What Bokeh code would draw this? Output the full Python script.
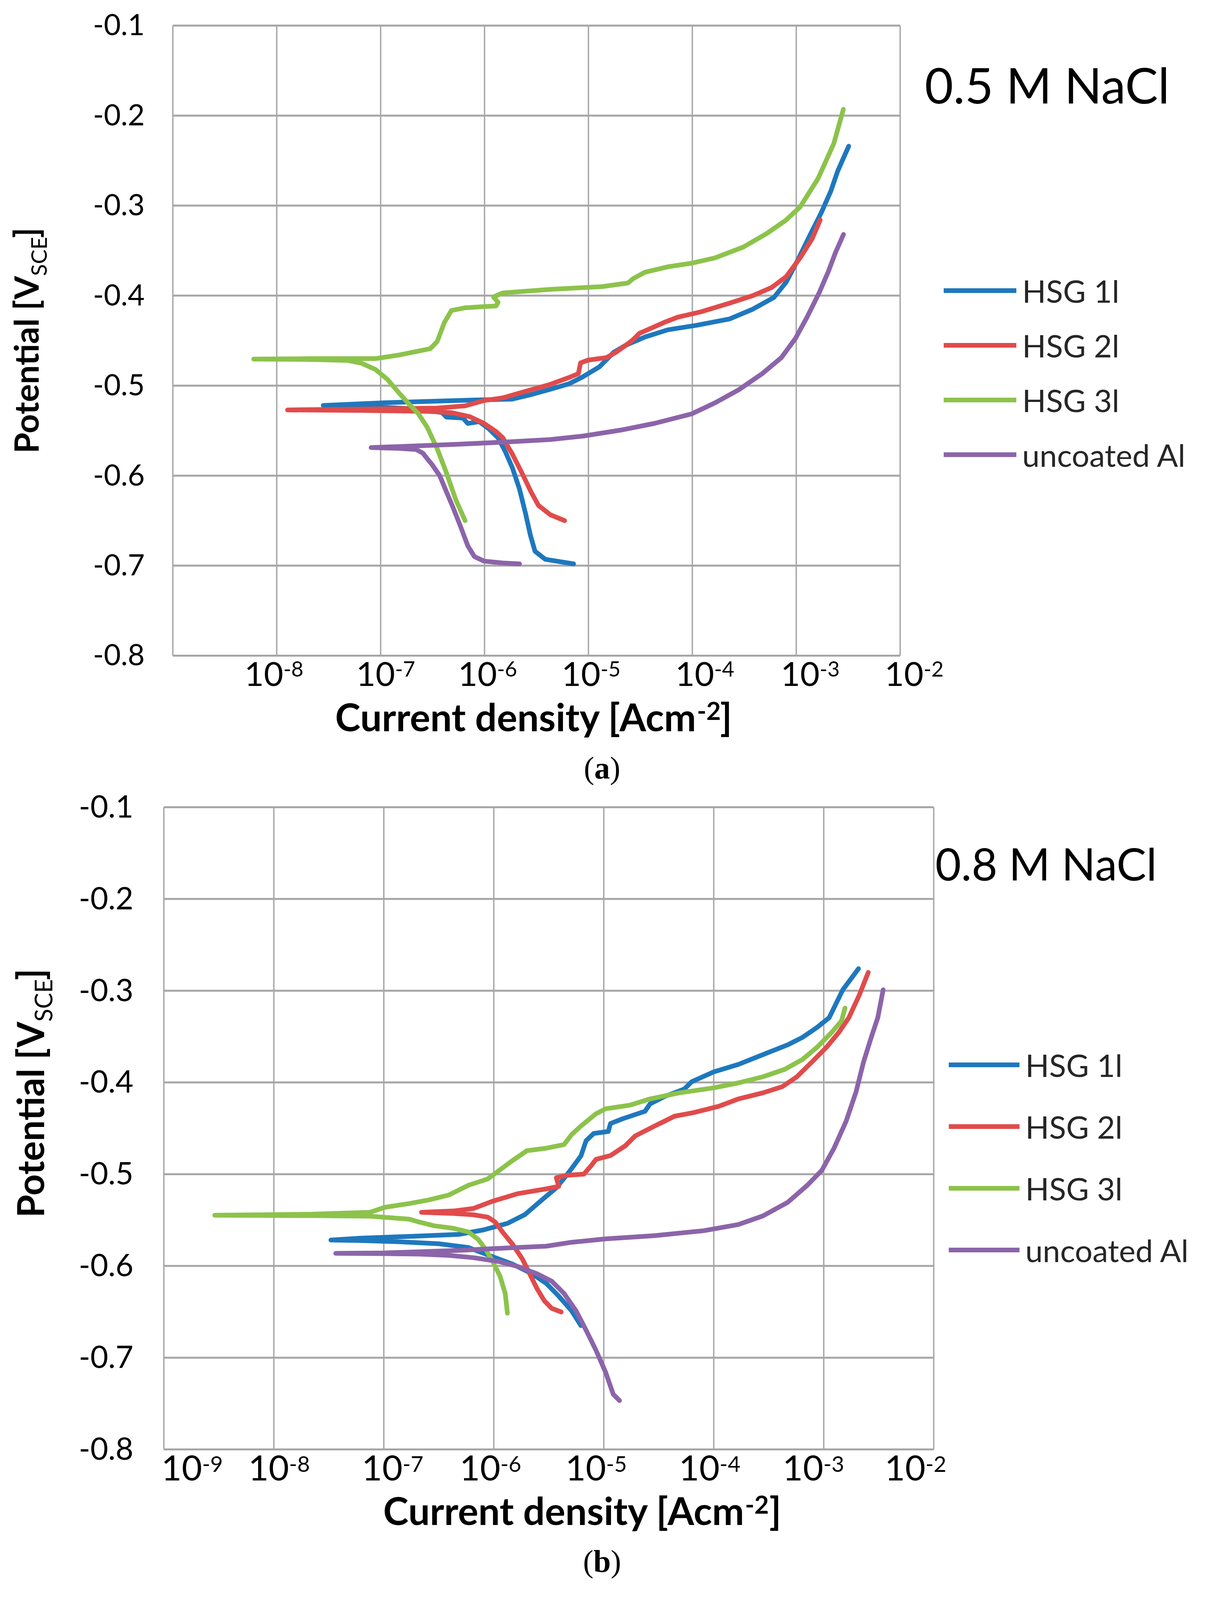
import math

from bokeh.embed import file_html
from bokeh.layouts import column
from bokeh.models import Label, Legend, LegendItem, Range1d
from bokeh.plotting import figure
from bokeh.resources import INLINE


# current density [A/cm2] and potential [V vs SCE]

# (a) 0.5 M NaCl
a_hsg1_i = [7.2e-6, 3.85e-6, 3.06e-6, 2.76e-6, 2.48e-6, 2.17e-6, 1.85e-6, 1.58e-6, 1.35e-6, 1.1e-6,
            8.9e-7, 6.9e-7, 6.2e-7, 4.3e-7, 3.9e-7, 2.3e-7, 6.5e-8, 2.8e-8, 1.1e-7, 8.0e-7,
            1.85e-6, 2.8e-6, 4.3e-6, 6.5e-6, 8.9e-6, 1.28e-5, 1.75e-5, 2.3e-5, 3.5e-5, 5.8e-5,
            1.09e-4, 2.27e-4, 3.83e-4, 6.1e-4, 8.0e-4, 1.03e-3, 1.34e-3, 1.74e-3, 2.15e-3, 2.5e-3,
            2.85e-3, 3.2e-3]
a_hsg1_e = [-0.698, -0.693, -0.684, -0.666, -0.642, -0.615, -0.591, -0.573, -0.558, -0.548,
            -0.540, -0.542, -0.536, -0.535, -0.530, -0.526, -0.523, -0.522, -0.519, -0.516,
            -0.515, -0.510, -0.504, -0.498, -0.490, -0.479, -0.463, -0.455, -0.446, -0.438,
            -0.433, -0.426, -0.415, -0.402, -0.385, -0.361, -0.334, -0.308, -0.284, -0.262,
            -0.247, -0.234]

a_hsg2_i = [5.9e-6, 4.3e-6, 3.3e-6, 2.8e-6, 2.29e-6, 1.85e-6, 1.5e-6, 1.29e-6, 9.9e-7, 7.2e-7,
            4.8e-7, 2.8e-7, 6.5e-8, 1.27e-8, 6.5e-8, 3.5e-7, 6.5e-7, 9.9e-7, 1.5e-6, 2.54e-6,
            4.3e-6, 6.5e-6, 8.0e-6, 8.4e-6, 9.9e-6, 1.5e-5, 1.85e-5, 2.28e-5, 2.67e-5, 3.1e-5,
            3.8e-5, 5.3e-5, 7.2e-5, 1.21e-4, 2.27e-4, 3.83e-4, 5.8e-4, 8.0e-4, 1.09e-3, 1.42e-3,
            1.7e-3]
a_hsg2_e = [-0.650, -0.6435, -0.633, -0.618, -0.597, -0.576, -0.558, -0.551, -0.542, -0.5345,
            -0.530, -0.5285, -0.5276, -0.527, -0.526, -0.525, -0.5225, -0.5165, -0.5136, -0.506,
            -0.4986, -0.491, -0.4867, -0.4747, -0.4717, -0.4688, -0.4628, -0.4553, -0.4493, -0.4419,
            -0.4374, -0.430, -0.424, -0.418, -0.4084, -0.400, -0.391, -0.379, -0.358, -0.337,
            -0.316]

a_hsg3_i = [6.5e-7, 5.3e-7, 4.3e-7, 3.5e-7, 2.8e-7, 2.3e-7, 1.86e-7, 1.5e-7, 1.16e-7, 8.9e-8,
            6.5e-8, 4.8e-8, 2.3e-8, 6.0e-9, 2.3e-8, 8.9e-8, 1.5e-7, 3.0e-7, 3.5e-7, 4.1e-7,
            4.8e-7, 6.5e-7, 1.04e-6, 1.29e-6, 1.35e-6, 1.22e-6, 1.5e-6, 4.3e-6, 1.35e-5, 2.4e-5,
            2.7e-5, 3.5e-5, 5.8e-5, 9.8e-5, 1.66e-4, 3.1e-4, 5.2e-4, 8.0e-4, 1.09e-3, 1.62e-3,
            2.3e-3, 2.84e-3]
a_hsg3_e = [-0.650, -0.627, -0.597, -0.570, -0.546, -0.531, -0.520, -0.508, -0.493, -0.482,
            -0.475, -0.472, -0.471, -0.4705, -0.470, -0.470, -0.466, -0.459, -0.451, -0.430,
            -0.4165, -0.4135, -0.412, -0.4115, -0.4075, -0.4015, -0.397, -0.393, -0.390, -0.386,
            -0.381, -0.374, -0.368, -0.364, -0.358, -0.346, -0.331, -0.316, -0.3015, -0.270,
            -0.231, -0.193]

a_al_i = [2.17e-6, 1.5e-6, 9.9e-7, 8.0e-7, 6.9e-7, 5.9e-7, 5.0e-7, 4.3e-7, 3.7e-7, 3.14e-7,
          2.8e-7, 2.55e-7, 2.2e-7, 1.5e-7, 8.1e-8, 1.86e-7, 5.3e-7, 1.5e-6, 4.3e-6, 8.9e-6,
          2.05e-5, 4.3e-5, 9.8e-5, 1.66e-4, 2.8e-4, 4.7e-4, 7.2e-4, 9.8e-4, 1.27e-3, 1.66e-3,
          2.04e-3, 2.39e-3, 2.85e-3]
a_al_e = [-0.698, -0.697, -0.695, -0.690, -0.678, -0.657, -0.636, -0.618, -0.600, -0.588,
          -0.581, -0.575, -0.571, -0.5697, -0.5688, -0.5673, -0.5652, -0.5628, -0.5599, -0.556,
          -0.5494, -0.542, -0.5315, -0.519, -0.5046, -0.4867, -0.4688, -0.4478, -0.424, -0.397,
          -0.373, -0.352, -0.332]

# (b) 0.8 M NaCl
b_hsg1_i = [6.2e-6, 5.1e-6, 3.9e-6, 3.0e-6, 2.23e-6, 1.48e-6, 9.8e-7, 5.9e-7, 3.16e-7, 1.39e-7,
            6.1e-8, 3.3e-8, 6.1e-8, 1.7e-7, 4.8e-7, 8.0e-7, 1.33e-6, 1.91e-6, 2.74e-6, 3.72e-6,
            4.58e-6, 5.35e-6, 6.2e-6, 6.9e-6, 8.1e-6, 1.1e-5, 1.15e-5, 1.49e-5, 2.37e-5, 2.63e-5,
            3.58e-5, 5.4e-5, 6.3e-5, 1.0e-4, 1.67e-4, 2.8e-4, 4.7e-4, 6.4e-4, 8.7e-4, 1.12e-3,
            1.49e-3, 2.07e-3]
b_hsg1_e = [-0.665, -0.649, -0.633, -0.619, -0.6086, -0.598, -0.590, -0.580, -0.5758, -0.5737,
            -0.5723, -0.5718, -0.5697, -0.5678, -0.5656, -0.5608, -0.5536, -0.5442, -0.528, -0.5146,
            -0.5012, -0.4905, -0.480, -0.4636, -0.4556, -0.4534, -0.4448, -0.4395, -0.4314, -0.4234,
            -0.4153, -0.4072, -0.3992, -0.3885, -0.3804, -0.3697, -0.359, -0.3509, -0.340, -0.3294,
            -0.299, -0.276]

b_hsg2_i = [4.1e-6, 3.36e-6, 2.88e-6, 2.47e-6, 2.12e-6, 1.82e-6, 1.48e-6, 1.2e-6, 1.03e-6, 8.8e-7,
            6.5e-7, 4.3e-7, 2.2e-7, 4.3e-7, 6.5e-7, 9.8e-7, 1.64e-6, 3.0e-6, 3.9e-6, 3.7e-6,
            4.58e-6, 6.6e-6, 7.7e-6, 8.5e-6, 1.15e-5, 1.57e-5, 1.93e-5, 2.9e-5, 4.4e-5, 6.6e-5,
            1.11e-4, 1.67e-4, 2.8e-4, 4.2e-4, 5.7e-4, 7.8e-4, 1.06e-3, 1.37e-3, 1.69e-3, 2.1e-3,
            2.54e-3]
b_hsg2_e = [-0.6502, -0.6462, -0.638, -0.6247, -0.6086, -0.5925, -0.5764, -0.563, -0.5522, -0.5468,
            -0.5442, -0.5428, -0.5415, -0.5401, -0.5374, -0.5294, -0.5213, -0.516, -0.5133, -0.5039,
            -0.5012, -0.4999, -0.4905, -0.4838, -0.4797, -0.469, -0.4583, -0.4475, -0.4368, -0.4328,
            -0.426, -0.418, -0.4113, -0.4046, -0.3938, -0.3777, -0.3616, -0.3455, -0.3294, -0.305,
            -0.280]

b_hsg3_i = [1.33e-6, 1.27e-6, 1.14e-6, 9.8e-7, 8.4e-7, 7.2e-7, 5.9e-7, 4.3e-7, 2.85e-7, 2.1e-7,
            1.7e-7, 1.13e-7, 7.5e-8, 2.2e-8, 2.9e-9, 2.2e-8, 7.5e-8, 1.02e-7, 1.7e-7, 2.58e-7,
            3.9e-7, 5.9e-7, 8.8e-7, 1.2e-6, 1.48e-6, 2.0e-6, 3.0e-6, 4.35e-6, 5.1e-6, 6.2e-6,
            8.5e-6, 1.04e-5, 1.74e-5, 2.63e-5, 4.87e-5, 1.0e-4, 1.67e-4, 2.8e-4, 4.4e-4, 6.4e-4,
            8.7e-4, 1.18e-3, 1.45e-3, 1.56e-3]
b_hsg3_e = [-0.6515, -0.630, -0.6113, -0.5952, -0.5817, -0.571, -0.563, -0.559, -0.5562, -0.5522,
            -0.549, -0.5474, -0.5458, -0.5452, -0.5447, -0.5436, -0.5415, -0.5361, -0.532, -0.528,
            -0.5227, -0.512, -0.5052, -0.4932, -0.4851, -0.4744, -0.4717, -0.4677, -0.4569, -0.4475,
            -0.4341, -0.4287, -0.4247, -0.418, -0.4113, -0.4059, -0.4005, -0.3938, -0.3858, -0.375,
            -0.3616, -0.3455, -0.333, -0.319]

b_al_i = [1.39e-5, 1.22e-5, 1.04e-5, 8.5e-6, 6.9e-6, 5.6e-6, 4.35e-6, 3.36e-6, 2.47e-6, 1.64e-6,
          1.09e-6, 6.5e-7, 3.9e-7, 2.1e-7, 1.02e-7, 3.65e-8, 1.02e-7, 4.8e-7, 1.33e-6, 3.0e-6,
          5.1e-6, 1.04e-5, 2.9e-5, 8.1e-5, 1.67e-4, 2.8e-4, 4.7e-4, 7.1e-4, 9.6e-4, 1.24e-3,
          1.6e-3, 1.97e-3, 2.3e-3, 2.7e-3, 3.1e-3, 3.47e-3]
b_al_e = [-0.7468, -0.740, -0.716, -0.692, -0.670, -0.649, -0.630, -0.6166, -0.6086, -0.6005,
          -0.595, -0.591, -0.5885, -0.5871, -0.5866, -0.5863, -0.5858, -0.5831, -0.5804, -0.5785,
          -0.5742, -0.5705, -0.567, -0.5616, -0.5549, -0.5455, -0.5307, -0.512, -0.4958, -0.4717,
          -0.442, -0.410, -0.3777, -0.351, -0.3294, -0.299]

series_names = ["HSG 1l", "HSG 2l", "HSG 3l", "uncoated Al"]
series_colors = ["#1e78be", "#e14b4b", "#8cc34b", "#8c64aa"]

decades = [-9, -8, -7, -6, -5, -4, -3, -2]
y_ticks = [-0.8, -0.7, -0.6, -0.5, -0.4, -0.3, -0.2, -0.1]

titles = ["0.5 M NaCl", "0.8 M NaCl"]
captions = ["a", "b"]

GRID = "#a6a6a6"
X_LO, X_HI = 1e-9, 1e-2
Y_LO, Y_HI = -0.8, -0.1

# distance from the baseline up to the "middle" anchor, as a share of the font size
MID = {"Lato": 0.387, "Liberation Serif": 0.3375}


def put(p, x, y, text, dx, dy, size, font="Lato", style="normal", align="left", angle=0.0,
        color="black"):
    # dx, dy put the baseline; the label is anchored at the middle of the text box
    shift = MID[font] * size
    if angle:
        dx -= shift
    else:
        dy += shift
    p.add_layout(Label(x=x, y=y, x_offset=dx, y_offset=dy, text=text, text_font=font,
                       text_font_size=f"{size}px", text_font_style=style, text_align=align,
                       text_baseline="middle", angle=angle, text_color=color))


def make_panel(series, g):
    # the canvas is all frame; ranges are widened so that the plot box sits
    # at the wanted place and every text lies inside the frame
    ppd = g["fw"] / 7.0
    ppv = g["fh"] / 0.7
    x_range = Range1d(10 ** (-9 - g["left"] / ppd), 10 ** (-2 + g["right"] / ppd))
    y_range = Range1d(Y_LO - g["bottom"] / ppv, Y_HI + g["top"] / ppv)
    width = g["left"] + g["fw"] + g["right"]
    height = g["top"] + g["fh"] + g["bottom"]

    p = figure(x_axis_type="log", x_range=x_range, y_range=y_range,
               width=width, height=height, min_border=0,
               x_axis_location=None, y_axis_location=None,
               toolbar_location=None, output_backend="svg", title=None)
    p.outline_line_color = None
    p.grid.visible = False
    p.background_fill_color = "white"
    p.border_fill_color = "white"

    xt = [10.0 ** d for d in decades]
    p.segment(x0=xt, y0=[Y_LO] * len(xt), x1=xt, y1=[Y_HI] * len(xt),
              line_color=GRID, line_width=3.5)
    p.segment(x0=[X_LO] * len(y_ticks), y0=y_ticks, x1=[X_HI] * len(y_ticks), y1=y_ticks,
              line_color=GRID, line_width=5)

    items = []
    for (i_vals, e_vals), name, col in zip(series, series_names, series_colors):
        r = p.line(i_vals, e_vals, line_color=col, line_width=12,
                   line_join="round", line_cap="round")
        items.append(LegendItem(label=name, renderers=[r]))

    lx0, ly0 = g["legend_at"]
    leg = Legend(items=items, location=(g["left"] + lx0, g["bottom"] + ly0),
                 padding=0, margin=0, spacing=3,
                 glyph_width=g["glyph_w"], glyph_height=g["row_h"], label_height=g["row_h"],
                 label_standoff=15, label_text_font="Lato", label_text_font_size="80px",
                 label_text_color="#262626", border_line_color=None, background_fill_alpha=0)
    p.add_layout(leg)

    # y tick labels
    for v in y_ticks:
        put(p, X_LO, v, f"{v:.1f}", -g["ystand"], -0.36 * g["yfont"], g["yfont"], align="right")

    # x tick labels 10^n, n as a raised small text
    for d, off in zip(decades, g["xoff"]):
        if d in g["skip"]:
            continue
        put(p, 10.0 ** d, Y_LO, "10", off, g["tick_dy"], g["tick_font"], align="right")
        put(p, 10.0 ** d, Y_LO, str(d), off, g["sup_dy"], g["sup_font"])

    # axis titles
    lx, bx, ly, rise = g["xlab"]
    put(p, X_LO, Y_LO, "Current density [Acm", lx, ly, 98, style="bold", align="right")
    put(p, X_LO, Y_LO, "-2", lx, ly + rise, 64, style="bold")
    put(p, X_LO, Y_LO, "]", bx, ly, 98, style="bold")

    vx, vsub, vy, vend, vf, sf = g["ylab"]
    half_pi = math.pi / 2
    put(p, X_LO, Y_HI, "Potential [V", vx, vy, vf, style="bold", align="right", angle=half_pi)
    put(p, X_LO, Y_HI, "SCE", vsub, vy, sf, angle=half_pi)
    put(p, X_LO, Y_HI, "]", vx, vend, vf, style="bold", angle=half_pi)

    put(p, X_HI, Y_HI, g["title"], g["title_at"][0], g["title_at"][1], g["title_font"])

    cx, cy, half = g["cap"]
    put(p, X_LO, Y_LO, "(", cx - half, cy, 80, font="Liberation Serif", align="right")
    put(p, X_LO, Y_LO, g["cap_text"], cx, cy, 80, font="Liberation Serif", style="bold",
        align="center")
    put(p, X_LO, Y_LO, ")", cx + half, cy, 80, font="Liberation Serif")
    return p


geom_a = dict(fw=1862, fh=1613, left=442, right=765, top=65, bottom=337,
              ystand=72, yfont=75, legend_at=(1974, 446), glyph_w=186, row_h=137,
              xoff=[17, 17, 37, 32, 31, 56, 60, 60], skip=[-9],
              tick_dy=-80, sup_dy=-55, tick_font=86, sup_font=54,
              xlab=(1342, 1401, -193, 27),
              ylab=(-344, -322, -641, -544, 86, 56),
              title=titles[0], title_at=(63, -200), title_font=126,
              cap=(1099, -314, 20), cap_text=captions[0])

geom_b = dict(fw=1971, fh=1644, left=419, right=679, top=51, bottom=357,
              ystand=78, yfont=79, legend_at=(2010, 433), glyph_w=181, row_h=155,
              xoff=[98, 39, 48, 17, 6, 15, -1, -21], skip=[],
              tick_dy=-82, sup_dy=-59, tick_font=90, sup_font=56,
              xlab=(1488, 1550, -193, 27),
              ylab=(-307, -285, -549, -443, 95, 61),
              title=titles[1], title_at=(4, -187), title_font=114,
              cap=(1122, -313, 22), cap_text=captions[1])

panel_a = make_panel([(a_hsg1_i, a_hsg1_e), (a_hsg2_i, a_hsg2_e),
                      (a_hsg3_i, a_hsg3_e), (a_al_i, a_al_e)], geom_a)
panel_b = make_panel([(b_hsg1_i, b_hsg1_e), (b_hsg2_i, b_hsg2_e),
                      (b_hsg3_i, b_hsg3_e), (b_al_i, b_al_e)], geom_b)

layout = column(panel_a, panel_b)
open("out.html", "w").write(file_html(layout, INLINE))
